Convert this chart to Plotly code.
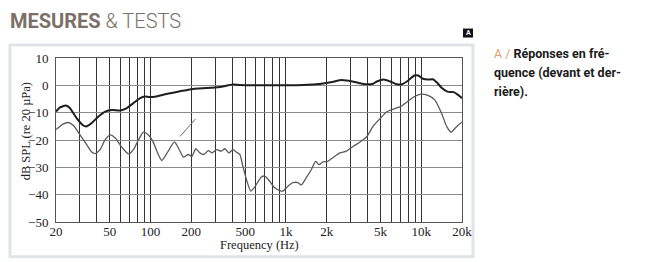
import plotly.graph_objects as go

# ---- data ----
front_freq = [20, 21.4, 23.7, 25.3, 28.4, 31.8, 33.7, 36.7, 41.2, 46.2, 51.8, 59.6, 66.7, 74.7,
              83.7, 90.8, 98, 110, 131, 165, 206, 259, 324, 406, 456, 574, 764, 1000, 1330,
              1780, 2200, 2500, 2800, 3100, 3500, 3900, 4400, 4700, 5270, 5900, 6610, 7190,
              7930, 8900, 9500, 10300, 11200, 12200, 13000, 14200, 15600, 17400, 18700, 20000]
front_db = [-9.6, -8.1, -7.4, -8.3, -12.0, -14.7, -15.0, -13.8, -11.4, -9.6, -9.0, -9.2, -8.3, -6.5,
            -4.7, -4.1, -4.3, -4.1, -3.2, -2.2, -1.3, -1.0, -0.6, 0.3, 0.1, 0.0, 0.0, 0.0, 0.1,
            0.5, 1.2, 1.9, 1.8, 1.4, 0.8, 0.4, 0.6, 1.4, 2.1, 1.4, 0.4, 0.4,
            1.6, 3.6, 3.6, 2.4, 2.1, 2.2, 1.1, -1.0, -2.3, -2.5, -3.5, -4.7]

back_freq = [20, 22.5, 24.6, 26.9, 30.1, 33.7, 36.7, 38.9, 42.3, 46.2, 50.3, 54.9, 61.4, 68.8,
             74.7, 81.4, 88.5, 95.6, 104, 114, 121, 135, 150, 165, 175, 190, 201, 216, 231,
             247, 267, 285, 307, 332, 354, 379, 406, 430, 456, 484, 519, 550, 588, 656, 698,
             759, 826, 898, 950, 1034, 1127, 1226, 1297, 1414, 1542, 1657, 1753, 1875, 2040,
             2219, 2500, 2800, 3150, 3530, 3970, 4400, 5000, 5600, 6300, 7070, 7930, 8900,
             9990, 11200, 12580, 14100, 15400, 16600, 18000, 20000]
back_db = [-16.2, -14.2, -13.6, -14.7, -18.1, -21.7, -24.4, -25.0, -23.5, -19.9, -18.1, -19.3, -22.7, -25.1,
           -23.5, -19.9, -17.1, -18.0, -20.5, -25.3, -27.5, -24.1, -20.7, -24.1, -26.3, -25.3, -26.1, -23.2, -24.7,
           -25.3, -23.9, -24.7, -23.5, -24.1, -23.2, -24.7, -23.5, -24.4, -25.3, -30.2, -35.6, -38.7, -37.2, -33.6, -33.2,
           -35.1, -37.5, -38.5, -38.7, -36.9, -35.6, -35.6, -36.5, -33.8, -30.8, -27.8, -29.0, -28.0, -27.8,
           -26.5, -24.7, -24.1, -22.3, -20.7, -18.7, -15.0, -12.0, -9.6, -8.6, -7.7, -5.9, -4.1,
           -3.2, -3.7, -5.3, -10.1, -15.0, -17.1, -15.4, -13.4]

pointer_freq = [165, 215]
pointer_db = [-18.7, -12.3]

grid_freqs = [20, 30, 40, 50, 60, 70, 80, 90, 100, 200, 300, 400, 500, 600, 700, 800, 900,
              1000, 2000, 3000, 4000, 5000, 6000, 7000, 8000, 9000, 10000, 20000]
label_map = {20: "20", 50: "50", 100: "100", 200: "200", 500: "500", 1000: "1k",
             2000: "2k", 5000: "5k", 10000: "10k", 20000: "20k"}
y_ticks = [10, 0, -10, -20, -30, -40, -50]

# ---- geometry helpers (pixel -> paper) ----
L, R, T, B = 56, 462, 58, 222.3
W, H = 646, 262
def px(x):
    return (x - L) / (R - L)
def py(y):
    return (B - y) / (B - T)

serif = "Liberation Serif, Times New Roman, serif"
sans = "Roboto, Inter, sans-serif"

fig = go.Figure()
fig.add_trace(go.Scatter(x=back_freq, y=back_db, mode="lines",
                         line=dict(color="#5a5a5a", width=1.3, shape="spline", smoothing=0.6),
                         hoverinfo="skip", showlegend=False))
fig.add_trace(go.Scatter(x=front_freq, y=front_db, mode="lines",
                         line=dict(color="#1e1e1e", width=2, shape="spline", smoothing=0.6),
                         hoverinfo="skip", showlegend=False))
fig.add_trace(go.Scatter(x=pointer_freq, y=pointer_db, mode="lines",
                         line=dict(color="#6a6a6a", width=1),
                         hoverinfo="skip", showlegend=False))

fig.update_layout(
    width=W, height=H,
    margin=dict(l=L, r=W - R, t=T, b=H - B),
    paper_bgcolor="white", plot_bgcolor="white",
    xaxis=dict(type="log", range=[1.30103, 4.30103],
               tickvals=grid_freqs,
               ticktext=[label_map.get(f, "") for f in grid_freqs],
               showgrid=True, gridcolor="#333333", gridwidth=1,
               showline=True, linecolor="#555", linewidth=1, mirror=True,
               ticks="", ticklabelstandoff=-3,
               tickfont=dict(family=serif, size=13, color="#222"),
               zeroline=False),
    yaxis=dict(range=[-50, 10], tickvals=y_ticks,
               showgrid=True, gridcolor="#8a8a8a", gridwidth=1,
               showline=True, linecolor="#555", linewidth=1, mirror=True,
               ticks="", ticklabelstandoff=4,
               tickfont=dict(family=serif, size=13, color="#222"),
               zeroline=False),
)

# axis titles
fig.add_annotation(xref="paper", yref="paper", x=px(259), y=py(245), xanchor="center", yanchor="middle",
                   text="Frequency (Hz)", showarrow=False,
                   font=dict(family=serif, size=12.5, color="#222"))
fig.add_annotation(xref="paper", yref="paper", x=px(26), y=py(131.5), xanchor="center", yanchor="middle",
                   text="dB SPL (re 20 µPa)", showarrow=False, textangle=-90,
                   font=dict(family=serif, size=12.5, color="#222"))

# panel frame
fig.add_shape(type="rect", xref="paper", yref="paper",
              x0=px(10), x1=px(473), y0=py(257), y1=py(45),
              line=dict(color="#dfe4e9", width=3), layer="below")

# header
fig.add_annotation(xref="paper", yref="paper", x=px(8), y=py(21), xanchor="left", yanchor="middle",
                   text="<b>MESURES</b><span style='font-weight:300'> & TESTS</span>", showarrow=False,
                   font=dict(family=sans, size=20, color="#7a7068"))

# label box "A"
fig.add_shape(type="rect", xref="paper", yref="paper",
              x0=px(463), x1=px(473), y0=py(37.5), y1=py(28.5),
              line=dict(width=0), fillcolor="#111")
fig.add_annotation(xref="paper", yref="paper", x=px(468), y=py(33), xanchor="center", yanchor="middle",
                   text="<b>A</b>", showarrow=False, font=dict(family=sans, size=7, color="white"))

# caption
caption = ["<span style='color:#e9a06e'>A / </span><b>Réponses en fré-</b>",
           "<b>quence (devant et der-</b>",
           "<b>rière).</b>"]
for i, line in enumerate(caption):
    fig.add_annotation(xref="paper", yref="paper", x=px(492), y=py(53 + i * 19.5),
                       xanchor="left", yanchor="middle", text=line, showarrow=False,
                       font=dict(family=sans, size=12.5, color="#1a1a1a"))

fig.write_html("out.html")
